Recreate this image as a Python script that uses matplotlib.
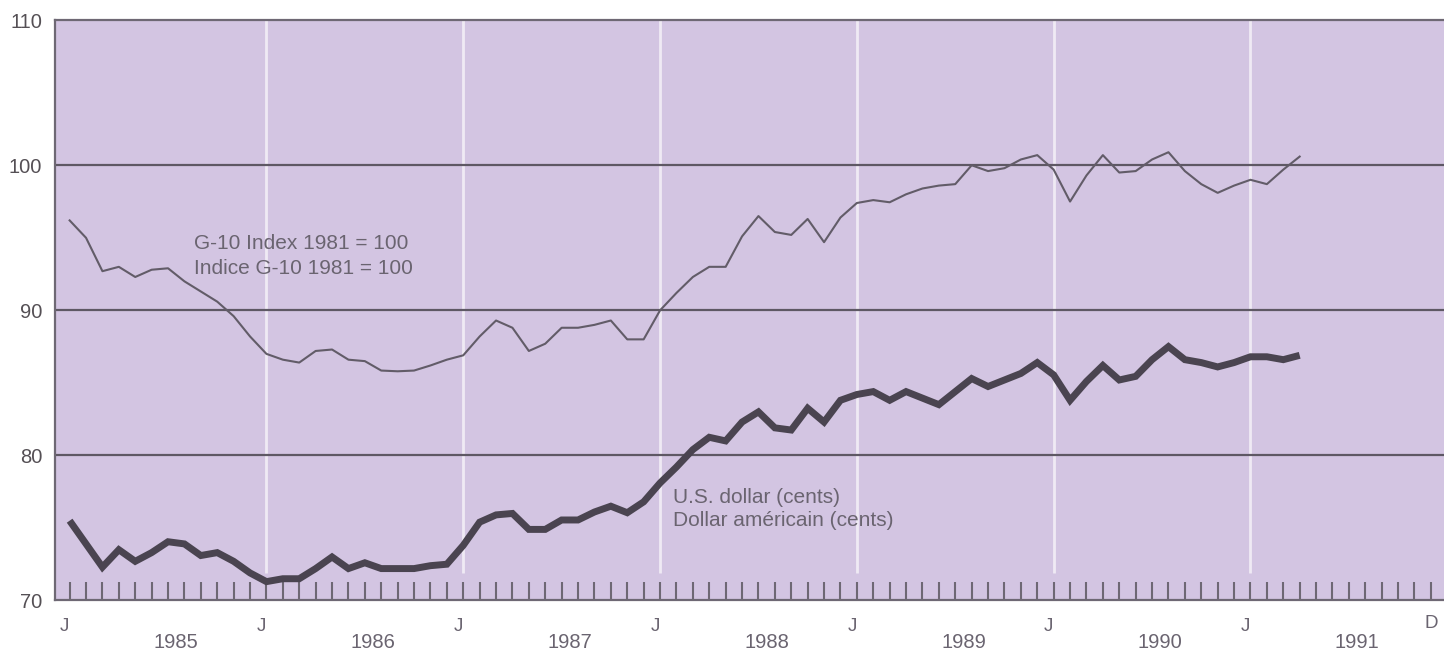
import numpy as np
import matplotlib.pyplot as plt

# Valeurs mensuelles, janvier 1985 - avril 1991
g10_index = [96.2, 95.0, 92.7, 93.0, 92.3, 92.8, 92.9, 92.0, 91.3, 90.6, 89.6, 88.2,
             87.0, 86.6, 86.4, 87.2, 87.3, 86.6, 86.5, 85.85, 85.8, 85.85, 86.2, 86.6,
             86.9, 88.2, 89.3, 88.8, 87.2, 87.7, 88.8, 88.8, 89.0, 89.3, 88.0, 88.0,
             90.0, 91.2, 92.3, 93.0, 93.0, 95.1, 96.5, 95.4, 95.2, 96.3, 94.7, 96.4,
             97.4, 97.6, 97.45, 98.0, 98.4, 98.6, 98.7, 100.0, 99.6, 99.8, 100.4, 100.7,
             99.7, 97.5, 99.3, 100.7, 99.5, 99.6, 100.4, 100.9, 99.6, 98.7, 98.1, 98.6,
             99.0, 98.7, 99.7, 100.6]
us_dollar = [75.5, 73.9, 72.3, 73.5, 72.7, 73.3, 74.05, 73.9, 73.1, 73.3, 72.7, 71.9,
             71.3, 71.5, 71.5, 72.2, 73.0, 72.2, 72.6, 72.2, 72.2, 72.2, 72.4, 72.5,
             73.8, 75.4, 75.9, 76.0, 74.9, 74.9, 75.55, 75.55, 76.1, 76.5, 76.05, 76.8,
             78.1, 79.2, 80.4, 81.25, 81.0, 82.3, 83.0, 81.9, 81.75, 83.25, 82.3, 83.8,
             84.2, 84.4, 83.8, 84.4, 83.95, 83.5, 84.4, 85.3, 84.75, 85.2, 85.65, 86.4,
             85.55, 83.8, 85.1, 86.2, 85.2, 85.45, 86.6, 87.5, 86.6, 86.4, 86.1, 86.4,
             86.8, 86.8, 86.6, 86.9]
years = ['1985', '1986', '1987', '1988', '1989', '1990', '1991']
n_months = 84  # janv. 1985 - déc. 1991

plt.rcParams['font.family'] = ['Liberation Sans', 'DejaVu Sans']

bg = '#d3c5e2'
grid_col = '#5e5864'
txt_col = '#6a6470'

fig = plt.figure(figsize=(14.44, 6.52), dpi=100)
ax = fig.add_axes([0.038, 0.079, 0.962, 0.890])
ax.set_facecolor(bg)

months = np.arange(len(g10_index))
ax.set_xlim(-0.9, 83.8)
ax.set_ylim(70, 110)

# lignes blanches de janvier
jan = np.arange(12, n_months, 12)
ax.vlines(jan, 71.9, 110, color='white', alpha=0.65, lw=2, zorder=1)

# lignes horizontales
for v in [80, 90, 100]:
    ax.axhline(v, color=grid_col, lw=1.6, zorder=2)

ax.plot(months, g10_index, color='#625c68', lw=1.5, zorder=3)
ax.plot(months, us_dollar, color='#4a4450', lw=5, zorder=4,
        solid_joinstyle='miter', solid_capstyle='butt')

ax.text(7.6, 94.2, 'G-10 Index 1981 = 100', fontsize=15, color=txt_col, va='baseline')
ax.text(7.6, 92.5, 'Indice G-10 1981 = 100', fontsize=15, color=txt_col, va='baseline')
ax.text(36.8, 76.75, 'U.S. dollar (cents)', fontsize=15, color=txt_col, va='baseline')
ax.text(36.8, 75.15, 'Dollar américain (cents)', fontsize=15, color=txt_col, va='baseline')

# axes
for s in ['left', 'top', 'bottom']:
    ax.spines[s].set_color('#6e6874')
    ax.spines[s].set_linewidth(1.6)
ax.spines['right'].set_visible(False)

ax.set_yticks([70, 80, 90, 100, 110])
ax.tick_params(axis='y', length=0, pad=9, labelsize=14.5, labelcolor='#555055')
ax.set_xticks(np.arange(n_months))
ax.set_xticklabels([])
ax.tick_params(axis='x', direction='in', length=13, width=1.5, color='#6e6874')

trans = ax.get_xaxis_transform()
for k in range(7):
    ax.text(12 * k - 0.3, -0.045, 'J', transform=trans, ha='center', va='center',
            fontsize=13.5, color=txt_col)
    ax.text(12 * k + 6.5, -0.073, years[k], transform=trans, ha='center', va='center',
            fontsize=14.5, color=txt_col)
ax.text(83, -0.04, 'D', transform=trans, ha='center', va='center',
        fontsize=13.5, color=txt_col)

fig.savefig('out.png', dpi=100)
